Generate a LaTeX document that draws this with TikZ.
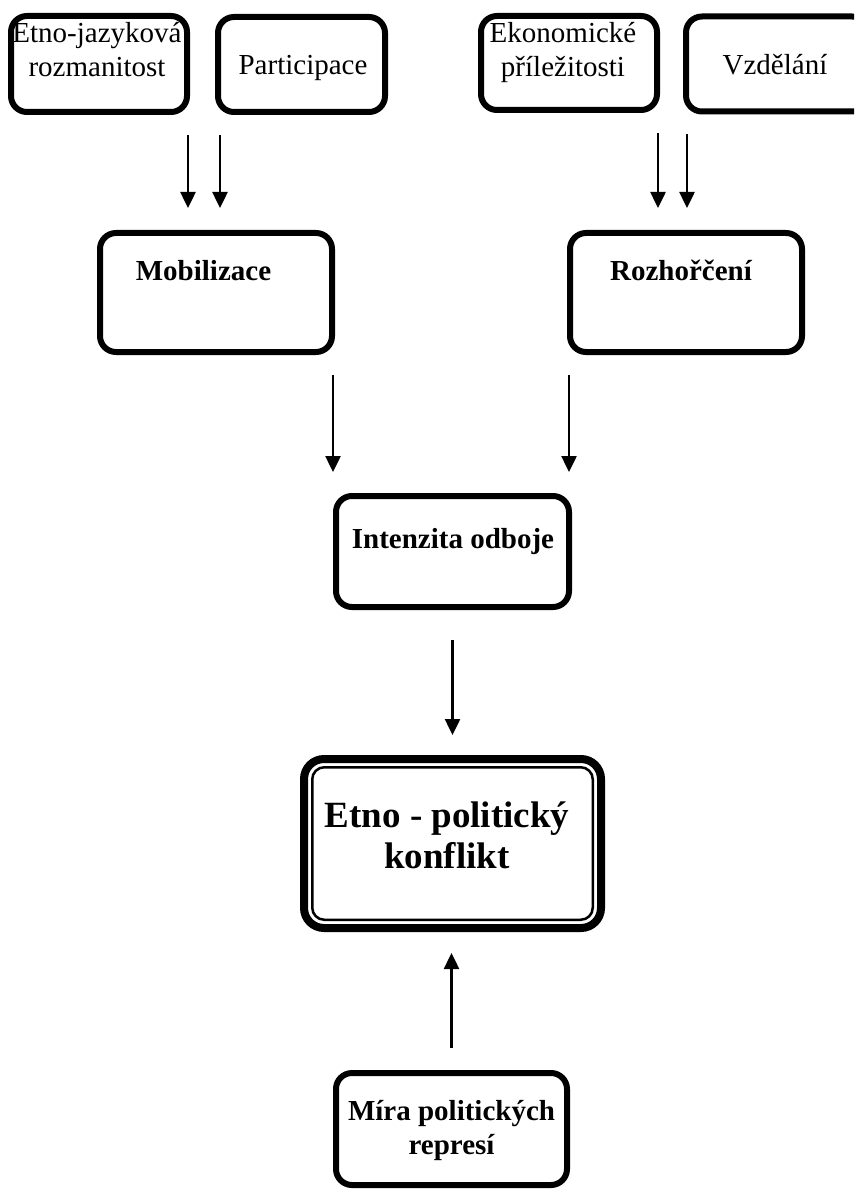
\documentclass[tikz,border=0pt]{standalone}
\usepackage{fontspec}
\setmainfont{Liberation Serif}
\usetikzlibrary{arrows.meta}

\tikzset{
  box/.style={draw, rectangle, rounded corners=16pt, line width=6pt, inner sep=0pt},
  bigbox/.style={box, line width=8pt, rounded corners=20pt},
  txt/.style={inner sep=0pt, align=center, font=\fontsize{29pt}{34pt}\selectfont},
  btxt/.style={txt, font=\fontsize{29pt}{34pt}\selectfont\bfseries},
  arr/.style={line width=2.5pt, -{Triangle[width=15pt,length=16pt]}}
}

\begin{document}
\begin{tikzpicture}[x=1pt,y=-1pt]
  \useasboundingbox (0,0) rectangle (854,1190);
  \clip (0,0) rectangle (854,1190);

  % Top row
  \node[box, minimum width=176pt, minimum height=96pt] (ej) at (99,64) {};
  \node[box, minimum width=167pt, minimum height=95pt] (par) at (301.5,64.5) {};
  \node[box, minimum width=176pt, minimum height=94pt] (eko) at (569,63) {};
  \node[box, minimum width=182pt, minimum height=95pt] (vzd) at (777,64) {};
  \node[txt] (tej) at (97,50) {Etno-jazyková\\rozmanitost};
  \node[txt, anchor=base] (tpar) at (303,75) {Participace};
  \node[txt] (teko) at (563,53) {Ekonomické\\příležitosti};
  \node[txt, anchor=base] (tvzd) at (775,75) {Vzdělání};

  % Middle row
  \node[box, minimum width=232pt, minimum height=119pt] (mob) at (216,292.5) {};
  \node[box, minimum width=232pt, minimum height=119pt] (roz) at (686,292.5) {};
  \node[btxt, anchor=base] (tmob) at (203.5,280) {Mobilizace};
  \node[btxt, anchor=base] (troz) at (681,280) {Rozhořčení};

  % Intenzita
  \node[box, minimum width=233pt, minimum height=111pt] (int) at (452.5,551.5) {};
  \node[btxt, anchor=base] (tint) at (453,548) {Intenzita odboje};

  % Konflikt
  \node[bigbox, minimum width=297pt, minimum height=169pt] (kon) at (452.5,843.5) {};
  \draw[line width=2.5pt, rounded corners=12pt]
    ([xshift=12.25pt,yshift=-12.25pt]kon.north west) rectangle ([xshift=-12.25pt,yshift=12.25pt]kon.south east);
  \node[inner sep=0pt, align=center, font=\fontsize{37pt}{41pt}\selectfont\bfseries] (tkon) at (447,835) {Etno - politický\\konflikt};

  % Represe
  \node[box, minimum width=231pt, minimum height=112pt] (mira) at (451.5,1129) {};
  \node[btxt] (tmira) at (451.5,1130) {Míra politických\\represí};

  % Arrows
  \draw[arr, shorten <=20pt, shorten >=22pt] ([xshift=-2pt]ej.south east) -- ([xshift=-2pt]ej.south east |- mob.north);
  \draw[arr, shorten <=20pt, shorten >=22pt] ([xshift=5pt]par.south west) -- ([xshift=5pt]par.south west |- mob.north);
  \draw[arr, shorten <=20pt, shorten >=22pt] ([xshift=-2pt]eko.south east) -- ([xshift=-2pt]eko.south east |- roz.north);
  \draw[arr, shorten <=20pt, shorten >=22pt] ([xshift=4pt]vzd.south west) -- ([xshift=4pt]vzd.south west |- roz.north);
  \draw[arr, shorten <=20pt, shorten >=21pt] ([xshift=-2pt]mob.south east) -- ([xshift=-2pt]mob.south east |- int.north);
  \draw[arr, shorten <=20pt, shorten >=21pt] ([xshift=2pt]roz.south west) -- ([xshift=2pt]roz.south west |- int.north);
  \draw[arr, shorten <=30pt, shorten >=20pt] (int.south) -- (int.south |- kon.north);
  \draw[arr, shorten <=22pt, shorten >=21pt] (mira.north) -- (mira.north |- kon.south);
\end{tikzpicture}
\end{document}
